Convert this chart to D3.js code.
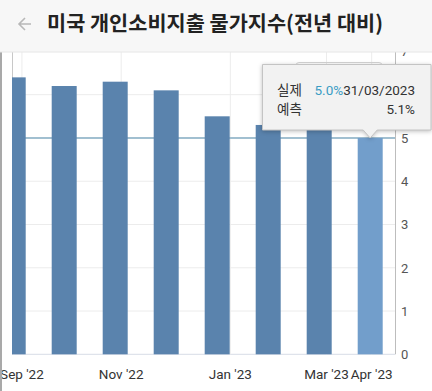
<!DOCTYPE html>
<html>
<head>
<meta charset="utf-8">
<script src="https://cdn.jsdelivr.net/npm/d3@7"></script>
<style>
  body { margin: 0; background: #fff; }
  svg { display: block; font-family: Roboto, "Noto Sans CJK KR", sans-serif; }
</style>
</head>
<body>
<svg id="chart"></svg>
<script>
// release dates of each bar and the yearly change (%)
const releaseDates = ["2022-08-26", "2022-09-30", "2022-10-28", "2022-12-01",
                      "2022-12-23", "2023-01-27", "2023-02-24", "2023-03-31"];
const values = [6.4, 6.2, 6.3, 6.1, 5.5, 5.3, 5.4, 5.0];

// month ticks on the x axis
const tickDates = ["2022-09-01", "2022-11-01", "2023-01-01", "2023-03-01", "2023-04-01"];
const tickLabels = ["Sep '22", "Nov '22", "Jan '23", "Mar '23", "Apr '23"];
const yTicks = [0, 1, 2, 3, 4, 5, 6, 7];

// tooltip of the hovered bar
const hoverIndex = 7;
const tipActual = "5.0%";
const tipDate = "31/03/2023";
const tipForecast = "5.1%";

const width = 432, height = 391;
const plot = { left: 12, right: 395, top: 52, bottom: 354.3 };

const svg = d3.select("#chart").attr("width", width).attr("height", height);

const parse = d3.timeParse("%Y-%m-%d");
const dates = releaseDates.map(parse);

// ordinal axis: bars evenly spaced, dates interpolated between them
const x = d3.scaleLinear().domain([0, values.length - 1]).range([13.2, 370.2]);
const y = d3.scaleLinear().domain([0, 7]).range([plot.bottom, 51.4]);

function dateToIndex(d) {
    const n = dates.length;
    for (let i = 0; i < n - 1; i++) {
        if (d >= dates[i] && d <= dates[i + 1]) {
            return i + (d - dates[i]) / (dates[i + 1] - dates[i]);
        }
    }
    if (d > dates[n - 1]) {
        return n - 1 + (d - dates[n - 1]) / (dates[n - 1] - dates[n - 2]);
    }
    return (d - dates[0]) / (dates[1] - dates[0]);
}

svg.append("defs").append("clipPath").attr("id", "plotClip")
    .append("rect")
    .attr("x", plot.left).attr("y", plot.top)
    .attr("width", plot.right - plot.left).attr("height", plot.bottom - plot.top + 1);

// horizontal grid
svg.append("g")
    .selectAll("line")
    .data(yTicks)
    .enter().append("line")
    .attr("x1", plot.left).attr("x2", plot.right)
    .attr("y1", d => y(d)).attr("y2", d => y(d))
    .attr("stroke", d => d === 0 ? "#d7dce6" : "#ececec")
    .attr("stroke-width", 1);

// vertical grid at month ticks
const tickX = tickDates.map(t => x(dateToIndex(parse(t))));
svg.append("g")
    .selectAll("line")
    .data(tickX)
    .enter().append("line")
    .attr("x1", d => d).attr("x2", d => d)
    .attr("y1", plot.top).attr("y2", plot.bottom)
    .attr("stroke", "#ececec");

// plot left edge
svg.append("line")
    .attr("x1", plot.left + 0.5).attr("x2", plot.left + 0.5)
    .attr("y1", plot.top).attr("y2", plot.bottom)
    .attr("stroke", "#c8c8c8");

// reference line at the hovered value
svg.append("line")
    .attr("x1", plot.left).attr("x2", plot.right)
    .attr("y1", y(values[hoverIndex])).attr("y2", y(values[hoverIndex]))
    .attr("stroke", "#86aec4")
    .attr("stroke-width", 1.5);

// bars
const barW = 25;
svg.append("g")
    .attr("clip-path", "url(#plotClip)")
    .selectAll("rect")
    .data(values)
    .enter().append("rect")
    .attr("x", (d, i) => x(i) - barW / 2)
    .attr("y", d => y(d))
    .attr("width", barW)
    .attr("height", d => y(0) - y(d))
    .attr("fill", (d, i) => i === hoverIndex ? "#729ecb" : "#5a83ad");

// right y axis
svg.append("line")
    .attr("x1", plot.right + 0.5).attr("x2", plot.right + 0.5)
    .attr("y1", plot.top).attr("y2", plot.bottom)
    .attr("stroke", "#bdbdbd");

svg.append("g")
    .selectAll("text")
    .data(yTicks)
    .enter().append("text")
    .attr("x", 401)
    .attr("y", d => y(d) + 5)
    .attr("font-size", 13)
    .attr("fill", "#555")
    .text(d => d);

// x labels
svg.append("g")
    .selectAll("text")
    .data(tickLabels)
    .enter().append("text")
    .attr("x", (d, i) => tickX[i])
    .attr("y", 379)
    .attr("text-anchor", "middle")
    .attr("font-size", 13.5)
    .attr("fill", "#333")
    .text(d => d);

// left screen edge
svg.append("rect")
    .attr("x", 0).attr("y", plot.top).attr("width", 2).attr("height", height - plot.top)
    .attr("fill", "#a9a9a9");

// header
svg.append("rect")
    .attr("x", 0).attr("y", 0).attr("width", width).attr("height", plot.top)
    .attr("fill", "#f7f7f7");
svg.append("line")
    .attr("x1", 0).attr("x2", width).attr("y1", plot.top).attr("y2", plot.top)
    .attr("stroke", "#e6e6e6");
svg.append("path")
    .attr("d", "M31,24 H19 M25,18 L19,24 L25,30")
    .attr("fill", "none")
    .attr("stroke", "#b8b8b8")
    .attr("stroke-width", 1.6);
svg.append("text")
    .attr("x", 47).attr("y", 31)
    .attr("font-family", "'Noto Sans CJK KR', sans-serif")
    .attr("font-weight", "bold")
    .attr("font-size", 20.8)
    .attr("fill", "#222")
    .text("미국 개인소비지출 물가지수(전년 대비)");

// tooltip
const tip = svg.append("g");
tip.append("rect")
    .attr("x", 296).attr("y", 62.5).attr("width", 86).attr("height", 10).attr("rx", 3)
    .attr("fill", "none").attr("stroke", "#d4d4d4");
const tx = x(hoverIndex);
tip.append("path")
    .attr("d", `M262.5,64.5 H431 V130 H${tx + 7} L${tx},138 L${tx - 7},130 H262.5 Z`)
    .attr("fill", "#f2f2f2")
    .attr("stroke", "#c4c4c4")
    .style("filter", "drop-shadow(0px 1px 2px rgba(0,0,0,0.25))");
tip.append("text")
    .attr("x", 277).attr("y", 95)
    .attr("font-size", 13.5).attr("fill", "#333")
    .text("실제");
const t1 = tip.append("text")
    .attr("x", 415).attr("y", 95)
    .attr("text-anchor", "end")
    .attr("font-size", 13.5).attr("fill", "#333");
t1.append("tspan").attr("fill", "#3a9cc4").text(tipActual);
t1.append("tspan").text(tipDate);
tip.append("text")
    .attr("x", 277).attr("y", 114)
    .attr("font-size", 13.5).attr("fill", "#333")
    .text("예측");
tip.append("text")
    .attr("x", 415).attr("y", 114)
    .attr("text-anchor", "end")
    .attr("font-size", 13.5).attr("fill", "#333")
    .text(tipForecast);
</script>
</body>
</html>
